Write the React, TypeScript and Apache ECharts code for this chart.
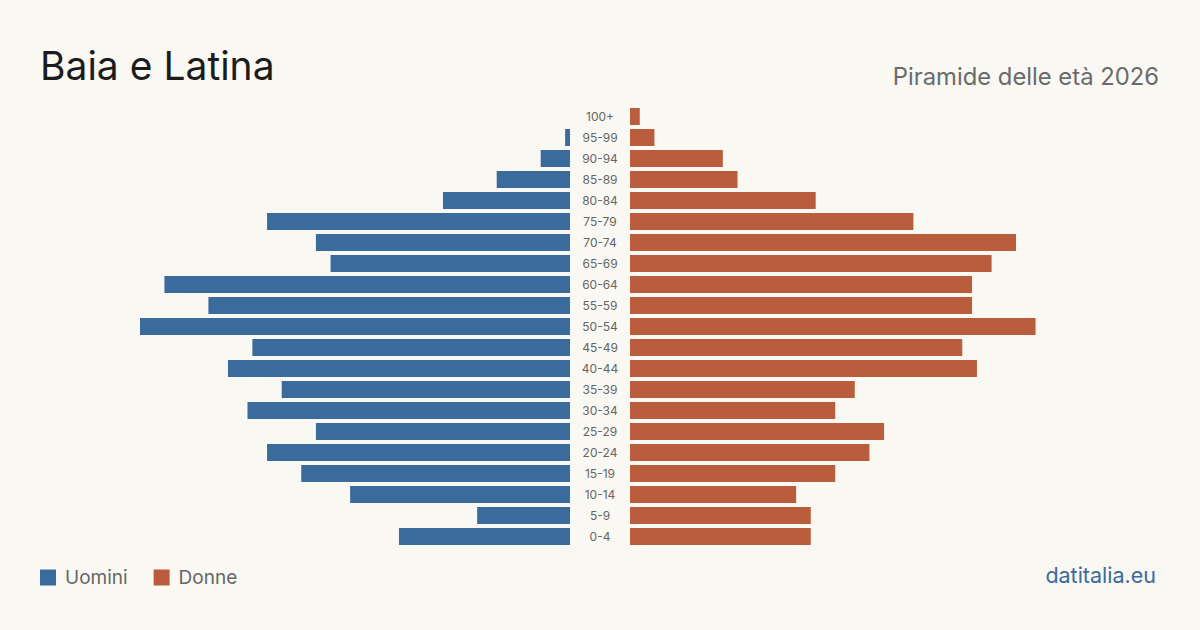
import React, { useEffect, useRef } from "react";
import * as echarts from "echarts";

const ageGroups = ["0-4","5-9","10-14","15-19","20-24","25-29","30-34","35-39","40-44","45-49","50-54","55-59","60-64","65-69","70-74","75-79","80-84","85-89","90-94","95-99","100+"];
const men = [35,19,45,55,62,52,66,59,70,65,88,74,83,49,52,62,26,15,6,1,0];
const women = [37,37,34,42,49,52,42,46,71,68,83,70,70,74,79,58,38,22,19,5,2];

const BLUE = "#3b6b9c";
const ORANGE = "#b95d3c";
const BG = "#f9f8f3";
const FONT = "Inter, 'Noto Sans', sans-serif";

export default function App() {
  const ref = useRef<HTMLDivElement>(null);
  useEffect(() => {
    document.body.style.margin = "0";
    const chart = echarts.init(ref.current!, null, { renderer: "svg" });
    const max = 88;
    chart.setOption({
      animation: false,
      backgroundColor: BG,
      textStyle: { fontFamily: FONT },
      title: [
        { text: "Baia e Latina", left: 40, top: 46, padding: 0, textStyle: { fontFamily: FONT, fontSize: 39, fontWeight: 400, color: "#1c1c1c" } },
        { text: "Piramide delle età 2026", right: 41, top: 64, padding: 0, textStyle: { fontFamily: FONT, fontSize: 23.8, fontWeight: 400, color: "#6b6b6b" } },
      ],
      legend: {
        left: 40, top: 568, padding: 0, icon: "rect", itemWidth: 16, itemHeight: 16, itemGap: 26,
        textStyle: { fontFamily: FONT, fontSize: 19, color: "#666", padding: [0, 0, 0, 4] },
        data: ["Uomini", "Donne"],
      },
      grid: [
        { left: 140, width: 430, top: 106, height: 441 },
        { left: 630, width: 430, top: 106, height: 441 },
      ],
      xAxis: [
        { type: "value", gridIndex: 0, min: 0, max, inverse: true, show: false },
        { type: "value", gridIndex: 1, min: 0, max, show: false },
      ],
      yAxis: [
        {
          type: "category", gridIndex: 0, data: ageGroups, position: "right",
          axisLine: { show: false }, axisTick: { show: false },
          axisLabel: { margin: 30, align: "center", fontFamily: FONT, fontSize: 12, color: "#666" },
        },
        { type: "category", gridIndex: 1, data: ageGroups, show: false },
      ],
      series: [
        { name: "Uomini", type: "bar", xAxisIndex: 0, yAxisIndex: 0, data: men, barWidth: 17, itemStyle: { color: BLUE } },
        { name: "Donne", type: "bar", xAxisIndex: 1, yAxisIndex: 1, data: women, barWidth: 17, itemStyle: { color: ORANGE } },
      ],
      graphic: [
        { type: "text", right: 44, top: 564, style: { text: "datitalia.eu", fontFamily: FONT, fontSize: 21.5, fill: BLUE } },
      ],
    });
    return () => chart.dispose();
  }, []);
  return <div ref={ref} style={{ width: 1200, height: 630 }} />;
}
